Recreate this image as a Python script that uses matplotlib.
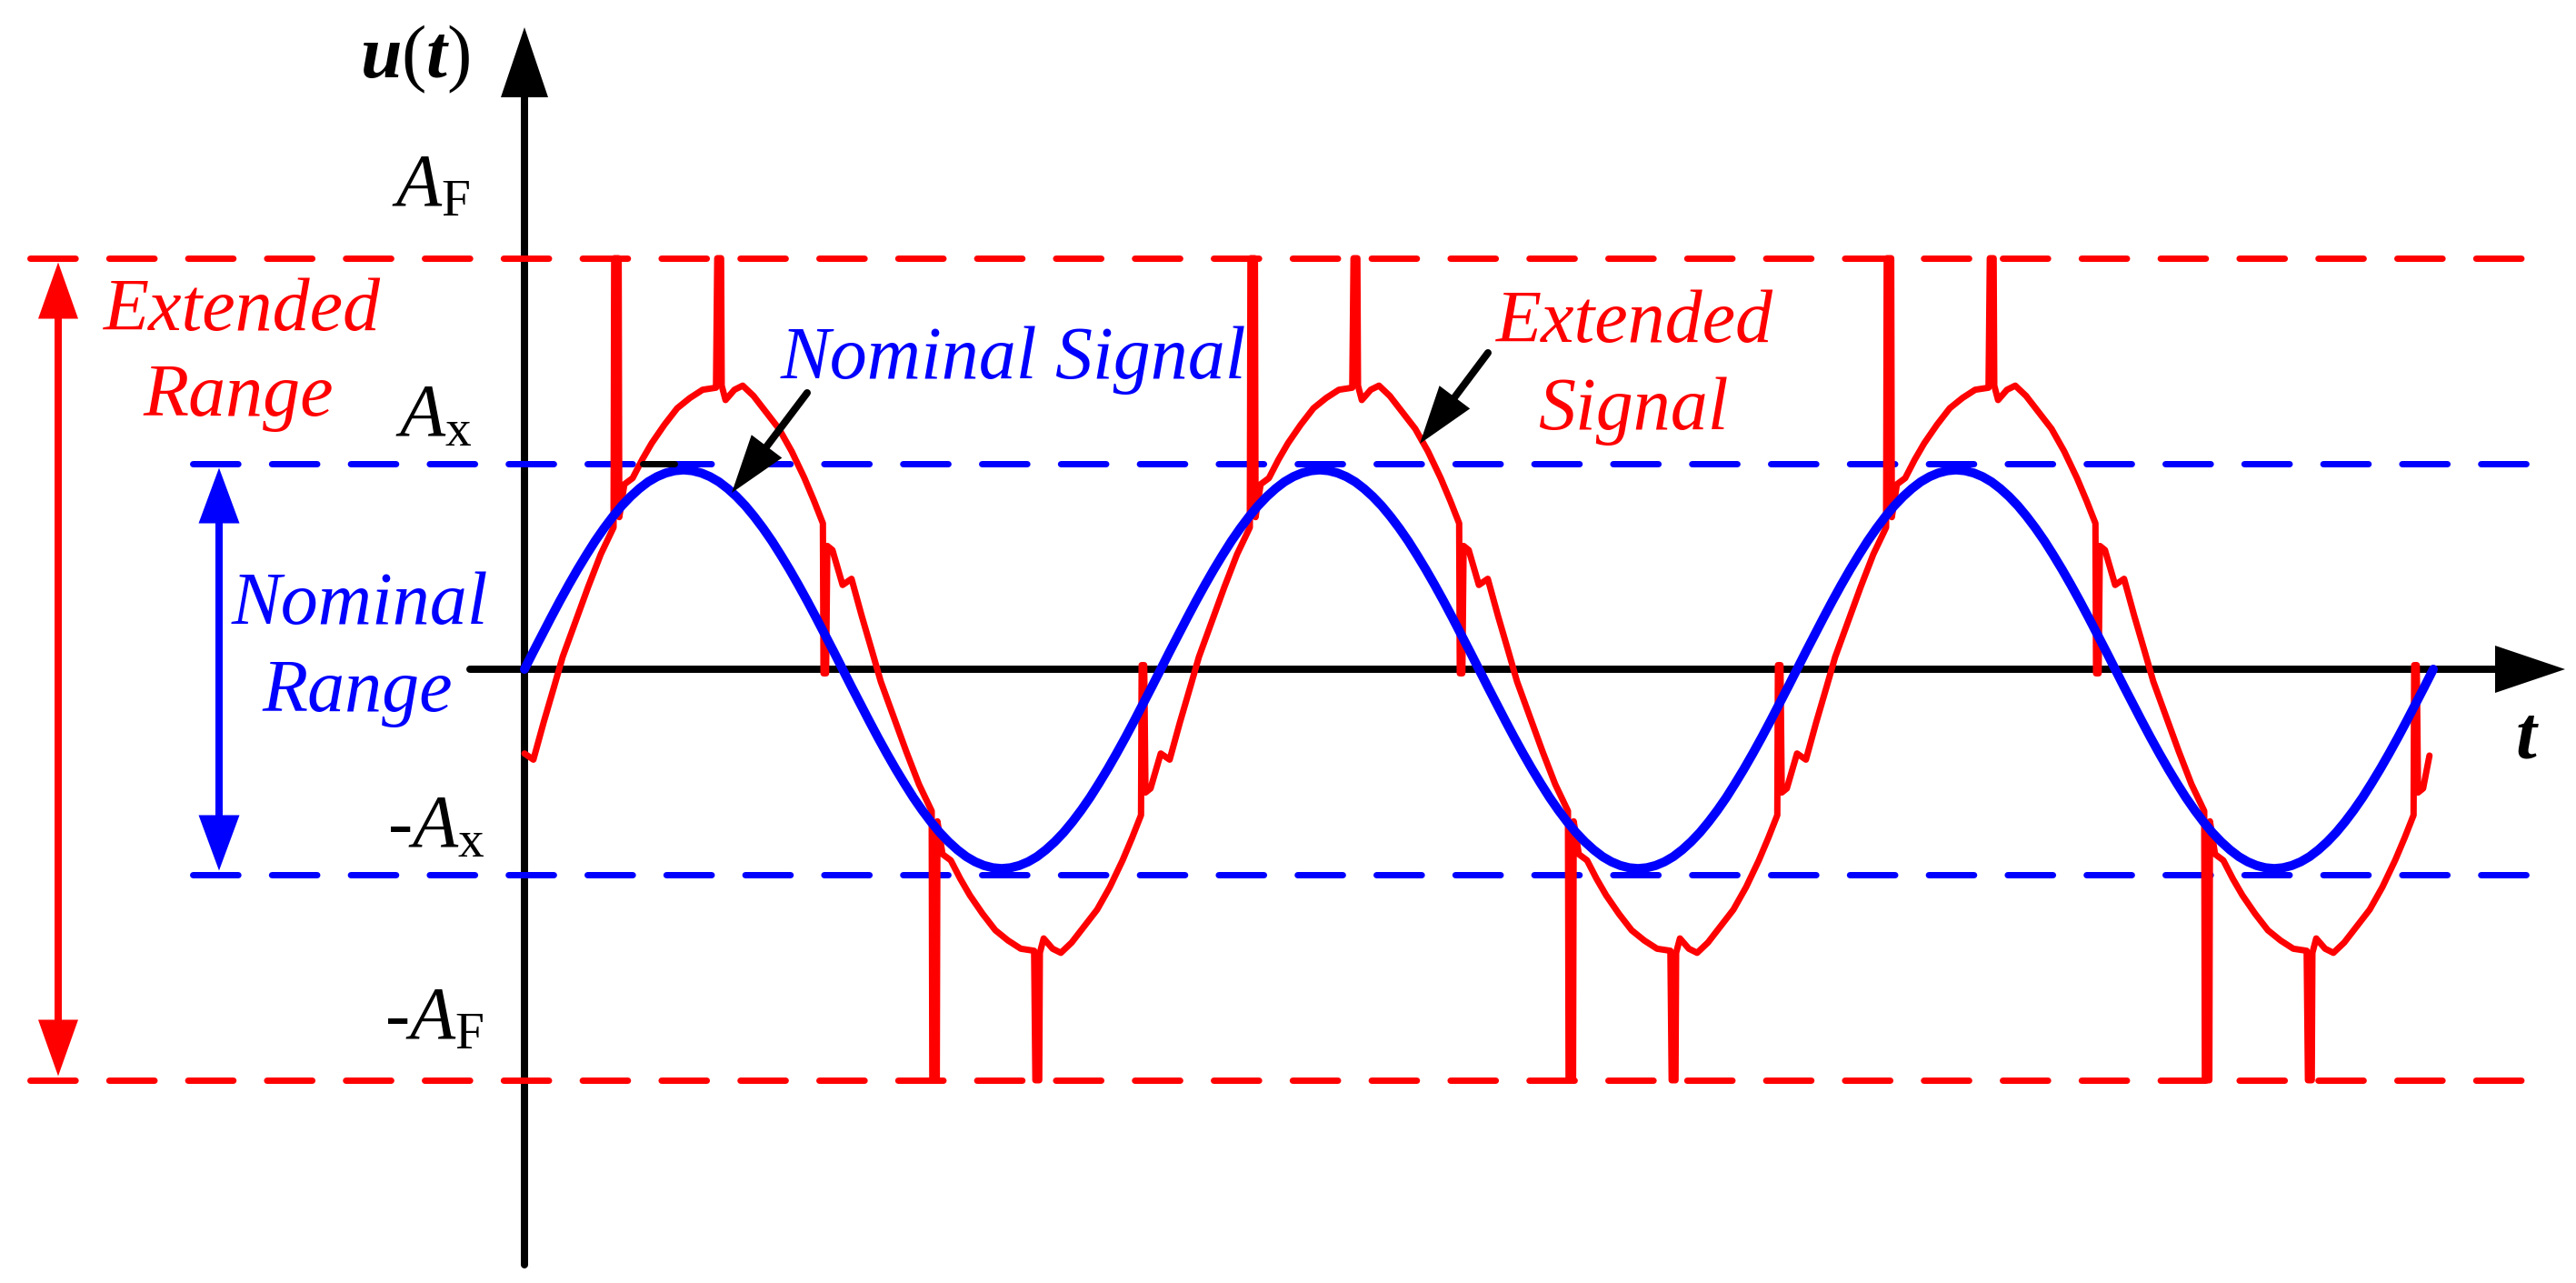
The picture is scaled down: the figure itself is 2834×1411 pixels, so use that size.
import numpy as np
import matplotlib
matplotlib.use("Agg")
import matplotlib.pyplot as plt
from matplotlib.patches import Polygon
from matplotlib.transforms import IdentityTransform

plt.rcParams["font.family"] = ["Liberation Serif", "DejaVu Serif"]
plt.rcParams["mathtext.fontset"] = "custom"
plt.rcParams["mathtext.it"] = "Liberation Serif:italic"
plt.rcParams["mathtext.rm"] = "Liberation Serif"
plt.rcParams["mathtext.bf"] = "Liberation Serif:italic:bold"

# --- data: t in periods of the nominal signal, u in units of A_x ---
A_X = 1.0
A_F = 2.0
N_PERIODS = 3

# nominal signal, one period (phase in degrees)
nominal_phase_deg = [0, 5, 10, 15, 20, 25, 30, 35, 40, 45, 50, 55, 60, 65,
                     70, 75, 80, 85, 90, 95, 100, 105, 110, 115, 120, 125,
                     130, 135, 140, 145, 150, 155, 160, 165, 170, 175, 180,
                     185, 190, 195, 200, 205, 210, 215, 220, 225, 230, 235,
                     240, 245, 250, 255, 260, 265, 270, 275, 280, 285, 290,
                     295, 300, 305, 310, 315, 320, 325, 330, 335, 340, 345,
                     350, 355, 360]
nominal_u = [0.000, 0.085, 0.168, 0.251, 0.332, 0.410, 0.485, 0.556, 0.624,
             0.686, 0.743, 0.795, 0.840, 0.879, 0.912, 0.937, 0.955, 0.966,
             0.970, 0.966, 0.955, 0.937, 0.912, 0.879, 0.840, 0.795, 0.743,
             0.686, 0.624, 0.556, 0.485, 0.410, 0.332, 0.251, 0.168, 0.085,
             0.000, -0.085, -0.168, -0.251, -0.332, -0.410, -0.485, -0.556,
             -0.624, -0.686, -0.743, -0.795, -0.840, -0.879, -0.912, -0.937,
             -0.955, -0.966, -0.970, -0.966, -0.955, -0.937, -0.912, -0.879,
             -0.840, -0.795, -0.743, -0.686, -0.624, -0.556, -0.485, -0.410,
             -0.332, -0.251, -0.168, -0.085, 0.000]

# extended (measured) signal, one period, spikes included
extended_t = [0.000, 0.014, 0.030, 0.047, 0.060, 0.080, 0.100, 0.120, 0.140,
              0.141, 0.148, 0.149, 0.157, 0.170, 0.185, 0.200, 0.220, 0.240,
              0.260, 0.280, 0.301, 0.303, 0.309, 0.310, 0.316, 0.330, 0.343,
              0.360, 0.380, 0.400, 0.420, 0.440, 0.455, 0.469, 0.470, 0.474,
              0.476, 0.484,
              0.500, 0.514, 0.530, 0.547, 0.560, 0.580, 0.600, 0.620, 0.640,
              0.641, 0.648, 0.649, 0.657, 0.670, 0.685, 0.700, 0.720, 0.740,
              0.760, 0.780, 0.801, 0.803, 0.809, 0.810, 0.816, 0.830, 0.843,
              0.860, 0.880, 0.900, 0.920, 0.940, 0.955, 0.969, 0.970, 0.974,
              0.976, 0.984]
extended_u = [-0.41, -0.44, -0.26, -0.08, 0.06, 0.23, 0.40, 0.56, 0.69,
              2.00, 2.00, 0.74, 0.90, 0.93, 1.02, 1.10, 1.19, 1.27,
              1.32, 1.36, 1.37, 2.00, 2.00, 1.38, 1.31, 1.36, 1.38,
              1.33, 1.25, 1.17, 1.06, 0.93, 0.82, 0.71, -0.02, -0.02,
              0.60, 0.58,
              0.41, 0.44, 0.26, 0.08, -0.06, -0.23, -0.40, -0.56, -0.69,
              -2.00, -2.00, -0.74, -0.90, -0.93, -1.02, -1.10, -1.19, -1.27,
              -1.32, -1.36, -1.37, -2.00, -2.00, -1.38, -1.31, -1.36, -1.38,
              -1.33, -1.25, -1.17, -1.06, -0.93, -0.82, -0.71, 0.02, 0.02,
              -0.60, -0.58]
extended_end_t = 2.994
extended_end_u = -0.42

# small black mark left on the first nominal peak
mark_t = [0.186, 0.236]
mark_u = [1.0, 1.0]

level_values = [A_F, A_X, -A_X, -A_F]
level_labels = [r"$A_{\mathrm{F}}$", r"$A_{\mathrm{x}}$",
                r"-$A_{\mathrm{x}}$", r"-$A_{\mathrm{F}}$"]

# --- layout (pixels of the 2834x1411 canvas) ---
W, H, DPI = 2834, 1411, 100
X0, PX_T = 577, 700      # pixel of t=0, pixels per period
Y0, PX_U = 736, 226      # pixel of u=0, pixels per A_x
PT = 72 / DPI            # px -> pt

RED = "#FF0000"
BLUE = "#0000FF"
FS = 59


def tx(x):
    return (x - X0) / PX_T


def uy(y):
    return (Y0 - y) / PX_U


fig = plt.figure(figsize=(W / DPI, H / DPI), dpi=DPI)
ax = fig.add_axes([0, 0, 1, 1])
ax.set_xlim(tx(0), tx(W))
ax.set_ylim(uy(H), uy(0))
ax.axis("off")


def head(tip, tail, length, width, color, z=6):
    T = ax.transData
    p = T.transform(tip)
    q = T.transform(tail)
    d = (p - q) / np.hypot(*(p - q))
    n = np.array([-d[1], d[0]])
    b = p - d * length
    ax.add_patch(Polygon([p, b + n * width / 2, b - n * width / 2], closed=True,
                         transform=IdentityTransform(), facecolor=color,
                         edgecolor="none", zorder=z))
    return T.inverted().transform(p - d * (length - 4))


def arrow(tail, tip, lw_px, length, width, color, z=6, both=False):
    end = head(tip, tail, length, width, color, z)
    start = head(tail, tip, length, width, color, z) if both else tail
    ax.plot([start[0], end[0]], [start[1], end[1]], color=color,
            lw=lw_px * PT, solid_capstyle="butt" if both else "round", zorder=z)


# axes
arrow((tx(577), uy(1391)), (tx(577), uy(30)), 8, 77, 52, "black", z=1)
arrow((tx(517), uy(736)), (tx(2822), uy(736)), 8, 77, 52, "black", z=1)

# range levels
dash = dict(lw=7 * PT, dashes=(7.1, 5.3), dash_capstyle="round", zorder=2)
for v in (A_F, -A_F):
    ax.plot([tx(33), tx(2797)], [v, v], color=RED, **dash)
for v in (A_X, -A_X):
    ax.plot([tx(212), tx(2797)], [v, v], color=BLUE, **dash)

# signals
ext_t = np.concatenate([np.array(extended_t) + k for k in range(N_PERIODS)]
                       + [[extended_end_t]])
ext_u = np.concatenate([extended_u] * N_PERIODS + [[extended_end_u]])
ax.plot(ext_t, ext_u, color=RED, lw=7 * PT, solid_joinstyle="round",
        solid_capstyle="round", zorder=3)

nom_t = np.concatenate([np.array(nominal_phase_deg[:-1]) / 360 + k
                        for k in range(N_PERIODS)] + [[N_PERIODS]])
nom_u = np.concatenate([nominal_u[:-1]] * N_PERIODS + [[nominal_u[-1]]])
ax.plot(nom_t, nom_u, color=BLUE, lw=10 * PT, solid_joinstyle="round",
        solid_capstyle="round", zorder=4)

ax.plot(mark_t, mark_u, color="black", lw=7 * PT, solid_capstyle="round", zorder=4)

# range arrows
arrow((tx(64), -A_F + 0.02), (tx(64), A_F - 0.02), 8, 62, 44, RED, z=5, both=True)
arrow((tx(241), -A_X + 0.02), (tx(241), A_X - 0.02), 8, 61, 45, BLUE, z=5, both=True)

# pointer arrows
arrow((tx(888), uy(432)), (tx(805), uy(542)), 8, 64, 42, "black", z=6)
arrow((tx(1637), uy(388)), (tx(1562), uy(488)), 8, 64, 42, "black", z=6)

# texts
it = dict(fontsize=FS, style="italic", ha="center", va="baseline", zorder=7)
ax.text(tx(266), uy(363), "Extended", color=RED, **it)
ax.text(tx(262), uy(457), "Range", color=RED, **it)
ax.text(tx(396), uy(686), "Nominal", color=BLUE, **it)
ax.text(tx(393), uy(782), "Range", color=BLUE, **it)
ax.text(tx(1115), uy(416), "Nominal Signal", color=BLUE, **it)
ax.text(tx(1798), uy(376), "Extended", color=RED, **it)
ax.text(tx(1797), uy(472), "Signal", color=RED, **it)

label_right = [517, 520, 533, 532]
label_base = [227, 480, 932, 1143]
for lab, xr, yb in zip(level_labels, label_right, label_base):
    ax.text(tx(xr), uy(yb), lab, fontsize=FS, ha="right", va="baseline", zorder=7)

ax.text(tx(517), uy(85), r"$\mathbf{u}(\mathbf{t})$", fontsize=FS,
        ha="right", va="baseline", zorder=7)
ax.text(tx(2780), uy(833), r"$\mathbf{t}$", fontsize=FS,
        ha="center", va="baseline", zorder=7)

fig.savefig("out.png", dpi=DPI)
